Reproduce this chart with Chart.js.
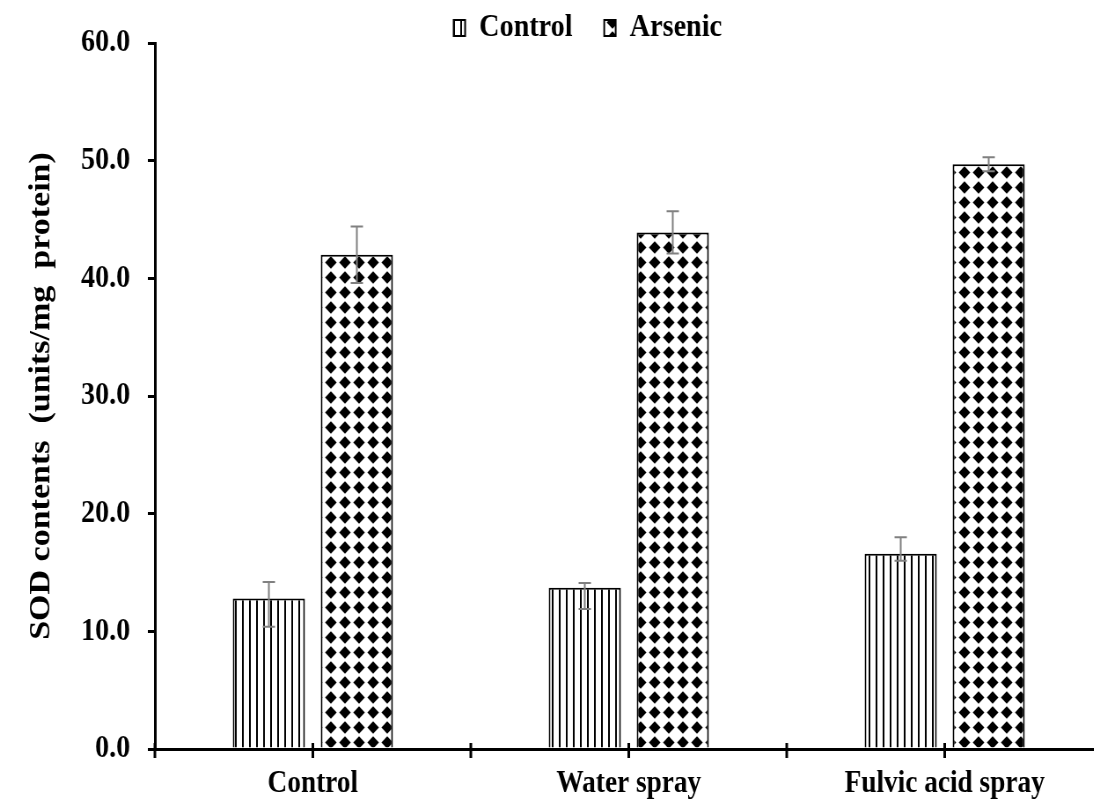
<!DOCTYPE html>
<html>
<head>
<meta charset="utf-8">
<script src="https://cdn.jsdelivr.net/npm/chart.js@4.4.1/dist/chart.umd.min.js"></script>
<style>
  html, body { margin: 0; padding: 0; background: #fff; }
  body { width: 1094px; height: 806px; overflow: hidden; }
  /* the original picture is squeezed sideways, so the whole chart is too */
  #wrap { width: 1336px; height: 806px; transform: scaleX(0.88); transform-origin: 0 0; }
</style>
</head>
<body>
<div id="wrap"><canvas id="chart" width="1336" height="806"></canvas></div>
<script>
// Data
const categories = ['Control', 'Water spray', 'Fulvic acid spray'];
const seriesNames = ['Control', 'Arsenic'];
const controlValues = [12.8, 13.7, 16.6];
const arsenicValues = [42.0, 43.9, 49.7];
const controlErrUp = [1.4, 0.4, 1.4];
const controlErrDown = [2.4, 1.8, 0.6];
const arsenicErrUp = [2.4, 1.8, 0.6];
const arsenicErrDown = [2.4, 1.8, 0.6];
const yMin = 0, yMax = 60, yStep = 10;
const yTitle = 'SOD contents  (units/mg  protein)';

const FONT = '"Liberation Serif", "Times New Roman", serif';

const canvas = document.getElementById('chart');
const ctx = canvas.getContext('2d');

// vertical stripes for the control series
function stripePattern() {
    const c = document.createElement('canvas');
    c.width = 8; c.height = 8;
    const g = c.getContext('2d');
    g.fillStyle = '#fff'; g.fillRect(0, 0, 8, 8);
    g.fillStyle = '#000'; g.fillRect(3, 0, 2, 8);
    return ctx.createPattern(c, 'repeat');
}

// black diamonds for the arsenic series
function diamondPattern() {
    const c = document.createElement('canvas');
    c.width = 16; c.height = 15;
    const g = c.getContext('2d');
    g.fillStyle = '#fff'; g.fillRect(0, 0, 16, 15);
    g.fillStyle = '#000';
    g.beginPath();
    g.moveTo(8, 1.2); g.lineTo(14.6, 7.5); g.lineTo(8, 13.8); g.lineTo(1.4, 7.5);
    g.closePath(); g.fill();
    return ctx.createPattern(c, 'repeat');
}

// Error bars drawn on top of the bars
const errorBars = {
    id: 'errorBars',
    afterDatasetsDraw(chart) {
        const c = chart.ctx, y = chart.scales.y;
        c.save();
        c.strokeStyle = '#808080';
        c.lineWidth = 2;
        chart.data.datasets.forEach((ds, d) => {
            chart.getDatasetMeta(d).data.forEach((bar, i) => {
                const top = y.getPixelForValue(ds.data[i] + ds.errUp[i]);
                const bot = y.getPixelForValue(ds.data[i] - ds.errDown[i]);
                c.beginPath();
                c.moveTo(bar.x, top); c.lineTo(bar.x, bot);
                c.moveTo(bar.x - 7, top); c.lineTo(bar.x + 7, top);
                c.moveTo(bar.x - 7, bot); c.lineTo(bar.x + 7, bot);
                c.stroke();
            });
        });
        c.restore();
    }
};

// Tick marks crossing the x axis, at category centres and boundaries
const crossTicks = {
    id: 'crossTicks',
    afterDraw(chart) {
        const x = chart.scales.x, c = chart.ctx, y0 = chart.chartArea.bottom;
        const half = (x.getPixelForValue(1) - x.getPixelForValue(0)) / 2;
        c.save();
        c.strokeStyle = '#000';
        c.lineWidth = 3;
        c.beginPath();
        categories.forEach((name, i) => {
            const cx = x.getPixelForValue(i);
            [cx - half, cx].forEach(px => {
                c.moveTo(px, y0 - 6);
                c.lineTo(px, y0 + 9);
            });
        });
        c.stroke();
        c.restore();
    }
};

const chart = new Chart(ctx, {
    type: 'bar',
    data: {
        labels: categories,
        datasets: [{
            label: seriesNames[0],
            data: controlValues,
            errUp: controlErrUp,
            errDown: controlErrDown,
            backgroundColor: stripePattern(),
            borderColor: '#000',
            borderWidth: 2,
            categoryPercentage: 0.557,
            barPercentage: 0.82
        }, {
            label: seriesNames[1],
            data: arsenicValues,
            errUp: arsenicErrUp,
            errDown: arsenicErrDown,
            backgroundColor: diamondPattern(),
            borderColor: '#000',
            borderWidth: 2,
            categoryPercentage: 0.557,
            barPercentage: 0.82
        }]
    },
    options: {
        responsive: false,
        animation: false,
        layout: { padding: 0 },
        plugins: {
            legend: {
                position: 'top',
                maxHeight: 43,
                labels: {
                    font: { family: FONT, size: 32, weight: 'bold' },
                    color: '#000',
                    boxWidth: 13,
                    boxHeight: 16,
                    padding: 12,
                    generateLabels(ch) {
                        const items = Chart.defaults.plugins.legend.labels.generateLabels(ch);
                        items.forEach((it, i) => { if (i < items.length - 1) it.text += '   '; });
                        return items;
                    }
                }
            },
            tooltip: { enabled: false }
        },
        scales: {
            x: {
                offset: true,
                grid: { display: false, drawTicks: false },
                border: { color: '#000', width: 3 },
                ticks: {
                    font: { family: FONT, size: 31, weight: 'bold' },
                    color: '#000',
                    padding: 16,
                    maxRotation: 0,
                    autoSkip: false
                },
                afterFit(s) { s.height = 57; }
            },
            y: {
                min: yMin,
                max: yMax,
                ticks: {
                    stepSize: yStep,
                    callback: v => v.toFixed(1),
                    font: { family: FONT, size: 32, weight: 'bold' },
                    color: '#000',
                    padding: 20
                },
                grid: { drawOnChartArea: false, color: '#000', lineWidth: 3, tickLength: 8 },
                border: { color: '#000', width: 3 },
                title: {
                    display: true,
                    text: yTitle,
                    font: { family: FONT, size: 34, weight: 'bold' },
                    color: '#000',
                    padding: { top: 27, bottom: 0 }
                },
                afterFit(s) { s.width = 176; }
            },
            spacer: {
                type: 'linear',
                axis: 'y',
                position: 'right',
                display: true,
                grid: { display: false, drawTicks: false },
                border: { display: false },
                ticks: { display: false },
                afterFit(s) { s.width = 83; }
            }
        }
    },
    plugins: [errorBars, crossTicks]
});
</script>
</body>
</html>
